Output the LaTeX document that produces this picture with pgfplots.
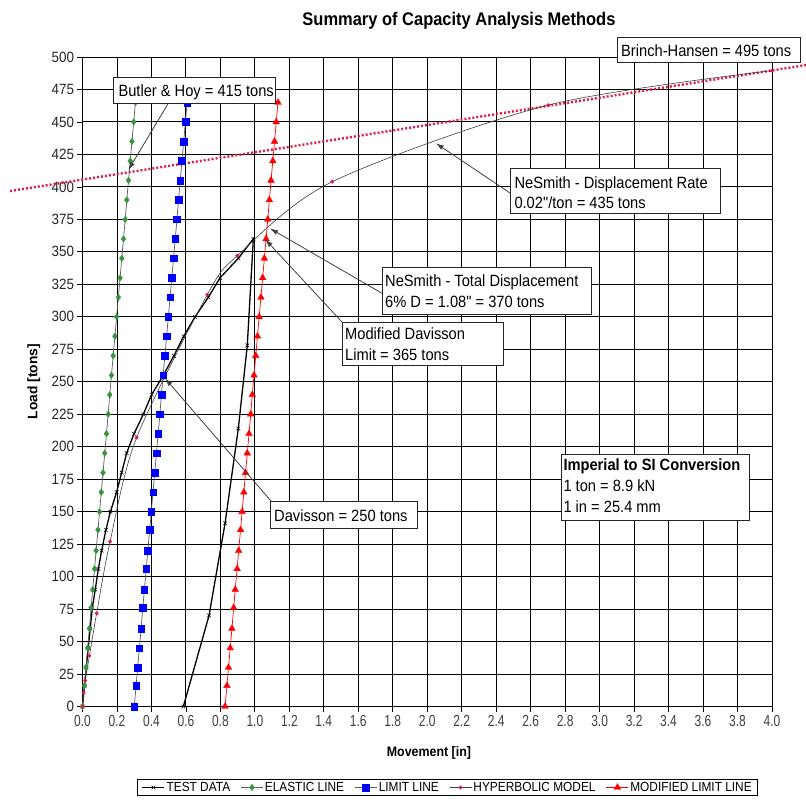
\documentclass[border=0pt]{standalone}
\usepackage{fontspec}
\setmainfont{Liberation Sans}[FakeStretch=0.9, Ligatures=TeXOff]
\newfontfamily\plainsans{Liberation Sans}
\newfontfamily\narrowsans{Liberation Sans}[FakeStretch=0.75]
\usepackage{pgfplots}
\pgfplotsset{compat=1.18}
\usetikzlibrary{arrows.meta}

\definecolor{elgreen}{RGB}{56,148,64}
\definecolor{hypred}{RGB}{225,25,70}
\definecolor{bhred}{RGB}{220,30,75}
\newcommand\annfont{\fontsize{16.3}{20}\selectfont}

\begin{document}
\begin{tikzpicture}
\begin{axis}[
  at={(0pt,0pt)}, anchor=south west,
  scale only axis, width=689.5pt, height=649.5pt,
  xmin=0, xmax=4, ymin=0, ymax=500,
  xtick={0,0.2,0.4,0.6,0.8,1.0,1.2,1.4,1.6,1.8,2.0,2.2,2.4,2.6,2.8,3.0,3.2,3.4,3.6,3.8,4.0},
  ytick={0,25,...,500},
  grid=major,
  major grid style={black, line width=0.9pt},
  axis line style={black, line width=0.9pt},
  tick align=outside, major tick length=5pt,
  tick style={black, line width=0.8pt},
  xtick pos=bottom, ytick pos=left,
  /pgf/number format/assume math mode=true,
  xticklabel style={font=\narrowsans\fontsize{16}{16}\selectfont, text=black!75,
    /pgf/number format/.cd, fixed, fixed zerofill, precision=1},
  yticklabel style={font=\fontsize{14.9}{15}\selectfont, text=black!85},
  title={Summary of Capacity Analysis Methods},
  title style={font=\bfseries\fontsize{18.3}{20}\selectfont, at={(axis description cs:0.546,1.0389)}, anchor=base},
  xlabel={Movement [in]},
  xlabel style={font=\bfseries\fontsize{13.8}{15}\selectfont, at={(axis description cs:0.5025,-0.077)}, anchor=base},
  ylabel={Load [tons]},
  ylabel style={font=\plainsans\bfseries\fontsize{13.8}{15}\selectfont, at={(axis description cs:-0.0656,0.5)}, anchor=base},
  clip=false,
  legend columns=-1,
  legend image code/.code={\draw[mark repeat=2,mark phase=2,#1] plot coordinates {(0pt,0pt) (11pt,0pt) (22pt,0pt)};},
  legend style={at={(axis description cs:0.5294,-0.1247)}, anchor=center,
    draw=black, line width=0.8pt, fill=white,
    font=\fontsize{13.2}{14}\selectfont,
    inner xsep=4pt, inner ysep=1pt,
    nodes={inner xsep=1.5pt, inner ysep=1.5pt},
    /tikz/every even column/.append style={column sep=9pt}},
]
% Brinch-Hansen line
\addplot[forget plot, bhred, line width=2.4pt, dash pattern=on 2pt off 2pt] coordinates {(-0.42,396.8) (4.197,493.8)};

% TEST DATA
\addplot[black, line width=1.3pt, mark=x, mark size=2.6pt, mark options={line width=0.5pt, solid}] coordinates {
(0,0) (0.012,16) (0.022,30) (0.033,45) (0.045,60) (0.057,76) (0.074,90) (0.092,106) (0.111,120) (0.136,136) (0.162,150) (0.198,165) (0.227,180) (0.256,195) (0.299,210) (0.353,225) (0.401,240) (0.469,255) (0.530,270) (0.587,285) (0.653,300) (0.730,315) (0.798,330) (0.904,345) (0.991,360) (0.956,278) (0.904,214) (0.827,141) (0.734,70) (0.585,0)};
\addlegendentry{TEST DATA}

% ELASTIC LINE
\addplot[black!65, line width=0.7pt, mark=diamond*, mark size=3.2pt, mark options={elgreen, solid, line width=0.4pt}] coordinates {
(0,0) (0.011,16) (0.020,30) (0.030,45) (0.040,60) (0.050,76) (0.059,90) (0.070,106) (0.079,120) (0.090,136) (0.099,150) (0.109,165) (0.119,180) (0.129,195) (0.139,210) (0.149,225) (0.158,240) (0.168,255) (0.178,270) (0.188,285) (0.198,300) (0.208,315) (0.218,330) (0.228,345) (0.238,360) (0.248,375) (0.257,390) (0.267,405) (0.277,420) (0.287,435) (0.297,450) (0.307,465)};
\addlegendentry{ELASTIC LINE}

% LIMIT LINE
\addplot[black!65, line width=0.7pt, mark=square*, mark size=3.3pt, mark options={blue, solid, line width=0.4pt}] coordinates {
(0.300,0) (0.311,16) (0.320,30) (0.330,45) (0.340,60) (0.350,76) (0.359,90) (0.370,106) (0.379,120) (0.390,136) (0.399,150) (0.409,165) (0.419,180) (0.429,195) (0.439,210) (0.449,225) (0.458,240) (0.468,255) (0.478,270) (0.488,285) (0.498,300) (0.508,315) (0.518,330) (0.528,345) (0.538,360) (0.548,375) (0.557,390) (0.567,405) (0.577,420) (0.587,435) (0.597,450) (0.607,465)};
\addlegendentry{LIMIT LINE}

% HYPERBOLIC MODEL
\addplot[black!75, line width=0.6pt, smooth, mark=*, mark size=1.8pt, mark options={hypred, solid, line width=0.3pt}] coordinates {
(0,0) (0.007,10.6) (0.016,19.9) (0.040,39) (0.082,71.7) (0.160,127) (0.314,207) (0.724,317) (0.898,347) (1.449,404) (2.702,463) (4.0,489.5)};
\addlegendentry{HYPERBOLIC MODEL}

% MODIFIED LIMIT LINE
\addplot[red, line width=0.7pt, mark=triangle*, mark size=3.9pt, mark options={red, solid, line width=0.3pt}] coordinates {
(0.827,0) (0.838,16) (0.847,30) (0.857,45) (0.867,60) (0.877,76) (0.886,90) (0.897,106) (0.906,120) (0.917,136) (0.926,150) (0.936,165) (0.946,180) (0.956,195) (0.966,210) (0.976,225) (0.985,240) (0.995,255) (1.005,270) (1.015,285) (1.025,300) (1.035,315) (1.045,330) (1.055,345) (1.065,360) (1.075,375) (1.084,390) (1.094,405) (1.104,420) (1.114,435) (1.124,450) (1.134,465)};
\addlegendentry{MODIFIED LIMIT LINE}

\coordinate (tipBH) at (axis cs:0.266,413);
\coordinate (tipNR) at (axis cs:2.05,433.6);
\coordinate (tipNT) at (axis cs:1.088,368);
\coordinate (tipMD) at (axis cs:1.06,359.6);
\coordinate (tipDV) at (axis cs:0.479,252.6);
\end{axis}

\begin{scope}[x=1pt,y=-1pt,shift={(-82.5pt,706.5pt)}]
  \tikzset{ann/.style={black!75, line width=0.8pt, -{Latex[length=8pt,width=5pt]}},
           box/.style={draw=black!85, line width=0.8pt, fill=white}}
  % arrows
  \draw[ann] (168.3,103.3) -- (tipBH);
  \draw[ann] (510,193) -- (tipNR);
  \draw[ann] (382,293.3) -- (tipNT);
  \draw[ann] (342,322) -- (tipMD);
  \draw[ann] (271,501) -- (tipDV);
  % boxes
  \draw[box] (113,77) rectangle (275,103);
  \node[anchor=base west, inner sep=0pt, font=\annfont] at (118.3,96.7) {Butler \& Hoy = 415 tons};
  \draw[box] (617,37) rectangle (800,62);
  \node[anchor=base west, inner sep=0pt, font=\annfont] at (621,56.7) {Brinch-Hansen = 495 tons};
  \draw[box] (510,168) rectangle (720,213);
  \node[anchor=base west, inner sep=0pt, font=\annfont] at (514.3,188.3) {NeSmith - Displacement Rate};
  \node[anchor=base west, inner sep=0pt, font=\annfont] at (514.3,208.3) {0.02"/ton = 435 tons};
  \draw[box] (382,267) rectangle (591,314);
  \node[anchor=base west, inner sep=0pt, font=\annfont] at (385,286.7) {NeSmith - Total Displacement};
  \node[anchor=base west, inner sep=0pt, font=\annfont] at (385,307.3) {6\% D = 1.08" = 370 tons};
  \draw[box] (342,322) rectangle (503,365);
  \node[anchor=base west, inner sep=0pt, font=\annfont] at (345,340) {Modified Davisson};
  \node[anchor=base west, inner sep=0pt, font=\annfont] at (345,360.7) {Limit = 365 tons};
  \draw[box] (270,501) rectangle (417,528);
  \node[anchor=base west, inner sep=0pt, font=\annfont] at (274,521) {Davisson = 250 tons};
  \draw[box] (561,454) rectangle (749,520);
  \node[anchor=base west, inner sep=0pt, font=\annfont\bfseries] at (563.3,470.5) {Imperial to SI Conversion};
  \node[anchor=base west, inner sep=0pt, font=\annfont] at (563.3,491.7) {1 ton = 8.9 kN};
  \node[anchor=base west, inner sep=0pt, font=\annfont] at (563.3,512.7) {1 in = 25.4 mm};
\end{scope}

\pgfresetboundingbox
\path[use as bounding box] (-82.5pt,706.5pt) rectangle (723.5pt,-97.5pt);
\end{tikzpicture}
\end{document}
